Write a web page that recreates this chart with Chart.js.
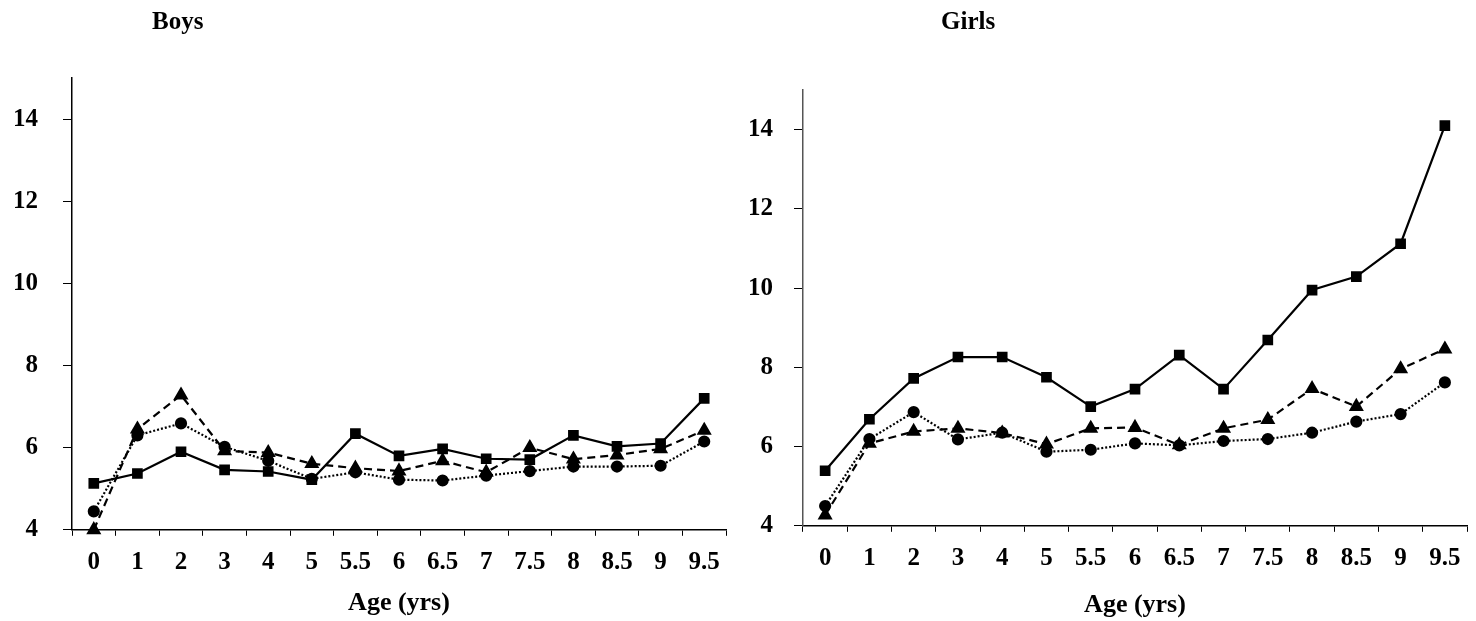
<!DOCTYPE html>
<html lang="en">
<head>
<meta charset="UTF-8">
<script src="https://cdn.jsdelivr.net/npm/chart.js"></script>
<style>
  body { margin: 0; background: #fff; }
  #wrap { position: relative; width: 1476px; height: 621px; }
  .painel { position: absolute; top: 0; height: 621px; }
  .titulo { position: absolute; top: 8px; font: bold 25px/25px 'Liberation Serif', serif; color: #000; }
</style>
<title>Boys / Girls</title>
</head>
<body>
<div id="wrap">
  <div class="painel" style="left:0; width:740px;"><canvas id="graficoBoys"></canvas></div>
  <div class="painel" style="left:740px; width:736px;"><canvas id="graficoGirls"></canvas></div>
  <div class="titulo" style="left:152px;">Boys</div>
  <div class="titulo" style="left:941px;">Girls</div>
</div>

<script>
  var idades = ['0', '1', '2', '3', '4', '5', '5.5', '6', '6.5', '7', '7.5', '8', '8.5', '9', '9.5'];

  var boysQuadrado = [5.13, 5.37, 5.9, 5.46, 5.42, 5.22, 6.34, 5.8, 5.97, 5.73, 5.71, 6.3, 6.03, 6.1, 7.2];
  var boysTriangulo = [4.0, 6.45, 7.28, 5.92, 5.88, 5.61, 5.5, 5.43, 5.68, 5.4, 6.0, 5.72, 5.82, 5.97, 6.42];
  var boysCirculo = [4.45, 6.3, 6.59, 6.02, 5.68, 5.24, 5.4, 5.22, 5.2, 5.32, 5.43, 5.54, 5.54, 5.56, 6.15];

  var girlsQuadrado = [5.39, 6.69, 7.72, 8.26, 8.26, 7.75, 7.01, 7.45, 8.31, 7.45, 8.69, 9.95, 10.29, 11.12, 14.1];
  var girlsTriangulo = [4.27, 6.08, 6.38, 6.46, 6.34, 6.06, 6.46, 6.48, 6.04, 6.46, 6.68, 7.46, 7.01, 7.96, 8.46];
  var girlsCirculo = [4.5, 6.19, 6.87, 6.18, 6.35, 5.87, 5.92, 6.08, 6.03, 6.14, 6.19, 6.35, 6.63, 6.82, 7.62];

  var ticksY = [4, 6, 8, 10, 12, 14];

  var fonte = 'Liberation Serif, Times New Roman, serif';

  function series(quadrado, triangulo, circulo) {
    return [
      { label: 'a', data: quadrado, borderColor: '#000', backgroundColor: '#000', borderWidth: 2.2,
        pointStyle: 'rect', pointRadius: 6, tension: 0, clip: false },
      { label: 'b', data: triangulo, borderColor: '#000', backgroundColor: '#000', borderWidth: 2.2,
        borderDash: [8, 5], pointStyle: 'triangle', pointRadius: 6.5, tension: 0, clip: false },
      { label: 'c', data: circulo, borderColor: '#000', backgroundColor: '#000', borderWidth: 2.2,
        borderDash: [2, 2], pointStyle: 'circle', pointRadius: 5, tension: 0, clip: false }
    ];
  }

  function Gerar(id, dados, cfg) {
    const ctx = document.getElementById(id).getContext('2d');
    return new Chart(ctx, {
      type: 'line',
      data: { labels: idades, datasets: dados },
      options: {
        responsive: true,
        maintainAspectRatio: false,
        animation: false,
        layout: { padding: cfg.padding },
        plugins: { legend: { display: false }, tooltip: { enabled: false } },
        scales: {
          x: {
            offset: true,
            grid: { drawOnChartArea: false, offset: true, tickLength: 6, color: '#000', lineWidth: 1 },
            border: { color: '#000', width: 1.5 },
            ticks: { color: '#000', padding: cfg.xPad, autoSkip: false, maxRotation: 0,
                     font: { family: fonte, size: 25, weight: 'bold' } },
            title: { display: true, text: 'Age (yrs)', color: '#000', padding: cfg.titlePad,
                     font: { family: fonte, size: 26, weight: 'bold' } }
          },
          y: {
            min: 4,
            max: 15,
            afterBuildTicks: function (escala) { escala.ticks = ticksY.map(v => ({ value: v })); },
            grid: { drawOnChartArea: false, tickLength: 9, color: '#000', lineWidth: 1 },
            border: { color: cfg.corY, width: 1.5 },
            ticks: { color: '#000', padding: cfg.yPad,
                     font: { family: fonte, size: 25, weight: 'bold' } }
          }
        }
      }
    });
  }

  Gerar('graficoBoys', series(boysQuadrado, boysTriangulo, boysCirculo),
        { padding: { left: -12, top: 78, right: 14, bottom: 2 }, xPad: 12, yPad: 25,
          titlePad: { top: -2, bottom: 0 }, corY: '#000' });

  Gerar('graficoGirls', series(girlsQuadrado, girlsTriangulo, girlsCirculo),
        { padding: { left: -13, top: 90, right: 9, bottom: 0 }, xPad: 12, yPad: 21,
          titlePad: { top: 4, bottom: 0 }, corY: '#555' });
</script>
</body>
</html>
